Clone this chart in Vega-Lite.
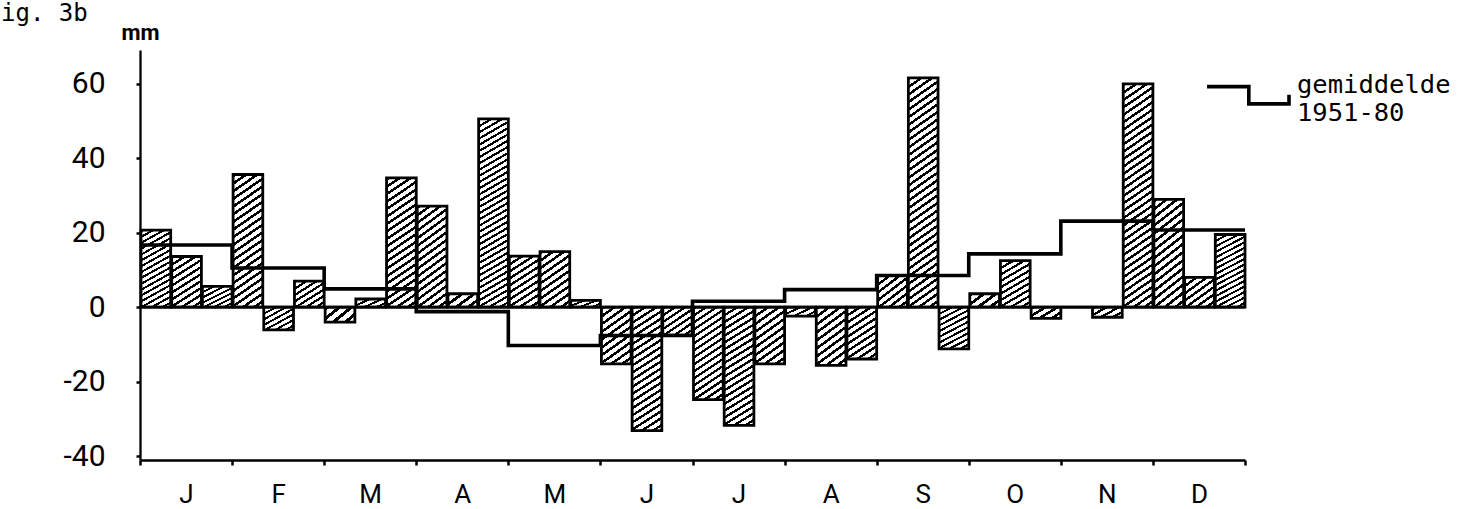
{
  "$schema": "https://vega.github.io/schema/vega-lite/v6.json",
  "autosize": {"type": "none"},
  "width": 1105,
  "height": 410,
  "padding": {"left": 140, "top": 50, "right": 229, "bottom": 49},
  "background": "white",
  "title": {
    "text": "ig. 3b",
    "anchor": "start",
    "frame": "group",
    "font": "DejaVu Sans Mono",
    "fontSize": 24,
    "fontWeight": "normal",
    "color": "black",
    "baseline": "alphabetic",
    "offset": 0,
    "dx": -139,
    "dy": 24
  },
  "config": {
    "view": {"stroke": null},
    "axis": {"domainColor": "black", "domainWidth": 2.3, "tickColor": "black", "labelColor": "black", "grid": false}
  },
  "datasets": {
    "dekaden": [
      {"maand": "jan", "dekade": 1, "waarde": 20.7},
      {"maand": "jan", "dekade": 2, "waarde": 13.6},
      {"maand": "jan", "dekade": 3, "waarde": 5.6},
      {"maand": "feb", "dekade": 4, "waarde": 35.6},
      {"maand": "feb", "dekade": 5, "waarde": -6.1},
      {"maand": "feb", "dekade": 6, "waarde": 7.0},
      {"maand": "mrt", "dekade": 7, "waarde": -4.0},
      {"maand": "mrt", "dekade": 8, "waarde": 2.2},
      {"maand": "mrt", "dekade": 9, "waarde": 34.7},
      {"maand": "apr", "dekade": 10, "waarde": 27.1},
      {"maand": "apr", "dekade": 11, "waarde": 3.6},
      {"maand": "apr", "dekade": 12, "waarde": 50.5},
      {"maand": "mei", "dekade": 13, "waarde": 13.7},
      {"maand": "mei", "dekade": 14, "waarde": 14.9},
      {"maand": "mei", "dekade": 15, "waarde": 1.8},
      {"maand": "jun", "dekade": 16, "waarde": -15.2},
      {"maand": "jun", "dekade": 17, "waarde": -33.1},
      {"maand": "jun", "dekade": 18, "waarde": -7.5},
      {"maand": "jul", "dekade": 19, "waarde": -24.8},
      {"maand": "jul", "dekade": 20, "waarde": -31.7},
      {"maand": "jul", "dekade": 21, "waarde": -15.2},
      {"maand": "aug", "dekade": 22, "waarde": -2.4},
      {"maand": "aug", "dekade": 23, "waarde": -15.6},
      {"maand": "aug", "dekade": 24, "waarde": -13.9},
      {"maand": "sep", "dekade": 25, "waarde": 8.5},
      {"maand": "sep", "dekade": 26, "waarde": 61.5},
      {"maand": "sep", "dekade": 27, "waarde": -11.2},
      {"maand": "okt", "dekade": 28, "waarde": 3.6},
      {"maand": "okt", "dekade": 29, "waarde": 12.5},
      {"maand": "okt", "dekade": 30, "waarde": -3.0},
      {"maand": "nov", "dekade": 31, "waarde": 0},
      {"maand": "nov", "dekade": 32, "waarde": -2.7},
      {"maand": "nov", "dekade": 33, "waarde": 59.9},
      {"maand": "dec", "dekade": 34, "waarde": 28.9},
      {"maand": "dec", "dekade": 35, "waarde": 8.0},
      {"maand": "dec", "dekade": 36, "waarde": 19.5}
    ],
    "gemiddelde": [
      {"maand": "jan", "dekade": 1, "waarde": 16.7},
      {"maand": "feb", "dekade": 4, "waarde": 10.5},
      {"maand": "mrt", "dekade": 7, "waarde": 4.9},
      {"maand": "apr", "dekade": 10, "waarde": -1.2},
      {"maand": "mei", "dekade": 13, "waarde": -10.3},
      {"maand": "jun", "dekade": 16, "waarde": -7.6},
      {"maand": "jul", "dekade": 19, "waarde": 1.6},
      {"maand": "aug", "dekade": 22, "waarde": 4.7},
      {"maand": "sep", "dekade": 25, "waarde": 8.5},
      {"maand": "okt", "dekade": 28, "waarde": 14.3},
      {"maand": "nov", "dekade": 31, "waarde": 23.1},
      {"maand": "dec", "dekade": 34, "waarde": 20.7},
      {"maand": "einde", "dekade": 37, "waarde": 20.7}
    ]
  },
  "layer": [
    {
      "data": {"name": "dekaden"},
      "mark": {"type": "bar", "stroke": "black", "strokeWidth": 2.8, "strokeJoin": "miter"},
      "encoding": {
        "x": {
          "field": "dekade",
          "type": "quantitative",
          "bin": {"step": 1, "extent": [1, 37], "nice": false},
          "scale": {"domain": [1, 37], "nice": false, "zero": false},
          "axis": {
            "title": null,
            "values": [1, 2.5, 4, 5.5, 7, 8.5, 10, 11.5, 13, 14.5, 16, 17.5, 19, 20.5, 22, 23.5, 25, 26.5, 28, 29.5, 31, 32.5, 34, 35.5, 37],
            "labelExpr": "datum.value % 3 == 2.5 ? ['J','F','M','A','M','J','J','A','S','O','N','D'][floor(datum.value / 3)] : ''",
            "tickOpacity": {"condition": {"test": "datum.value % 3 == 1", "value": 1}, "value": 0},
            "tickSize": 5,
            "tickWidth": 2.5,
            "labelPadding": 16,
            "labelFont": "Roboto",
            "labelFontSize": 26,
            "labelAngle": 0,
            "labelOverlap": false,
            "labelFlush": false,
            "labelBound": false
          }
        },
        "y": {
          "field": "waarde",
          "type": "quantitative",
          "scale": {"domain": [-41, 69], "nice": false},
          "axis": {
            "title": "mm",
            "titleAngle": 0,
            "titleAlign": "center",
            "titleBaseline": "alphabetic",
            "titleX": 0,
            "titleY": -11,
            "titleFont": "Roboto",
            "titleFontSize": 22,
            "titleFontWeight": "bold",
            "titleColor": "black",
            "values": [-40, -20, 0, 20, 40, 60],
            "labelExpr": "'' + datum.value",
            "labelFont": "Roboto",
            "labelFontSize": 30,
            "labelPadding": 31,
            "tickSize": 4,
            "tickWidth": 2.5
          }
        },
        "fill": {
          "condition": [
            {"test": "abs(datum.waarde) >= 45", "value": {"gradient": "linear", "x1": 0, "y1": 0, "x2": 0.0987, "y2": 1.082, "stops": [
              {"offset": 0, "color": "#000"}, {"offset": 0.0121, "color": "#000"}, {"offset": 0.0121, "color": "#fff"}, {"offset": 0.0303, "color": "#fff"},
              {"offset": 0.0303, "color": "#000"}, {"offset": 0.0424, "color": "#000"}, {"offset": 0.0424, "color": "#fff"}, {"offset": 0.0606, "color": "#fff"},
              {"offset": 0.0606, "color": "#000"}, {"offset": 0.0727, "color": "#000"}, {"offset": 0.0727, "color": "#fff"}, {"offset": 0.0909, "color": "#fff"},
              {"offset": 0.0909, "color": "#000"}, {"offset": 0.1030, "color": "#000"}, {"offset": 0.1030, "color": "#fff"}, {"offset": 0.1212, "color": "#fff"},
              {"offset": 0.1212, "color": "#000"}, {"offset": 0.1333, "color": "#000"}, {"offset": 0.1333, "color": "#fff"}, {"offset": 0.1515, "color": "#fff"},
              {"offset": 0.1515, "color": "#000"}, {"offset": 0.1636, "color": "#000"}, {"offset": 0.1636, "color": "#fff"}, {"offset": 0.1818, "color": "#fff"},
              {"offset": 0.1818, "color": "#000"}, {"offset": 0.1939, "color": "#000"}, {"offset": 0.1939, "color": "#fff"}, {"offset": 0.2121, "color": "#fff"},
              {"offset": 0.2121, "color": "#000"}, {"offset": 0.2242, "color": "#000"}, {"offset": 0.2242, "color": "#fff"}, {"offset": 0.2424, "color": "#fff"},
              {"offset": 0.2424, "color": "#000"}, {"offset": 0.2545, "color": "#000"}, {"offset": 0.2545, "color": "#fff"}, {"offset": 0.2727, "color": "#fff"},
              {"offset": 0.2727, "color": "#000"}, {"offset": 0.2848, "color": "#000"}, {"offset": 0.2848, "color": "#fff"}, {"offset": 0.3030, "color": "#fff"},
              {"offset": 0.3030, "color": "#000"}, {"offset": 0.3152, "color": "#000"}, {"offset": 0.3152, "color": "#fff"}, {"offset": 0.3333, "color": "#fff"},
              {"offset": 0.3333, "color": "#000"}, {"offset": 0.3455, "color": "#000"}, {"offset": 0.3455, "color": "#fff"}, {"offset": 0.3636, "color": "#fff"},
              {"offset": 0.3636, "color": "#000"}, {"offset": 0.3758, "color": "#000"}, {"offset": 0.3758, "color": "#fff"}, {"offset": 0.3939, "color": "#fff"},
              {"offset": 0.3939, "color": "#000"}, {"offset": 0.4061, "color": "#000"}, {"offset": 0.4061, "color": "#fff"}, {"offset": 0.4242, "color": "#fff"},
              {"offset": 0.4242, "color": "#000"}, {"offset": 0.4364, "color": "#000"}, {"offset": 0.4364, "color": "#fff"}, {"offset": 0.4545, "color": "#fff"},
              {"offset": 0.4545, "color": "#000"}, {"offset": 0.4667, "color": "#000"}, {"offset": 0.4667, "color": "#fff"}, {"offset": 0.4848, "color": "#fff"},
              {"offset": 0.4848, "color": "#000"}, {"offset": 0.4970, "color": "#000"}, {"offset": 0.4970, "color": "#fff"}, {"offset": 0.5152, "color": "#fff"},
              {"offset": 0.5152, "color": "#000"}, {"offset": 0.5273, "color": "#000"}, {"offset": 0.5273, "color": "#fff"}, {"offset": 0.5455, "color": "#fff"},
              {"offset": 0.5455, "color": "#000"}, {"offset": 0.5576, "color": "#000"}, {"offset": 0.5576, "color": "#fff"}, {"offset": 0.5758, "color": "#fff"},
              {"offset": 0.5758, "color": "#000"}, {"offset": 0.5879, "color": "#000"}, {"offset": 0.5879, "color": "#fff"}, {"offset": 0.6061, "color": "#fff"},
              {"offset": 0.6061, "color": "#000"}, {"offset": 0.6182, "color": "#000"}, {"offset": 0.6182, "color": "#fff"}, {"offset": 0.6364, "color": "#fff"},
              {"offset": 0.6364, "color": "#000"}, {"offset": 0.6485, "color": "#000"}, {"offset": 0.6485, "color": "#fff"}, {"offset": 0.6667, "color": "#fff"},
              {"offset": 0.6667, "color": "#000"}, {"offset": 0.6788, "color": "#000"}, {"offset": 0.6788, "color": "#fff"}, {"offset": 0.6970, "color": "#fff"},
              {"offset": 0.6970, "color": "#000"}, {"offset": 0.7091, "color": "#000"}, {"offset": 0.7091, "color": "#fff"}, {"offset": 0.7273, "color": "#fff"},
              {"offset": 0.7273, "color": "#000"}, {"offset": 0.7394, "color": "#000"}, {"offset": 0.7394, "color": "#fff"}, {"offset": 0.7576, "color": "#fff"},
              {"offset": 0.7576, "color": "#000"}, {"offset": 0.7697, "color": "#000"}, {"offset": 0.7697, "color": "#fff"}, {"offset": 0.7879, "color": "#fff"},
              {"offset": 0.7879, "color": "#000"}, {"offset": 0.8000, "color": "#000"}, {"offset": 0.8000, "color": "#fff"}, {"offset": 0.8182, "color": "#fff"},
              {"offset": 0.8182, "color": "#000"}, {"offset": 0.8303, "color": "#000"}, {"offset": 0.8303, "color": "#fff"}, {"offset": 0.8485, "color": "#fff"},
              {"offset": 0.8485, "color": "#000"}, {"offset": 0.8606, "color": "#000"}, {"offset": 0.8606, "color": "#fff"}, {"offset": 0.8788, "color": "#fff"},
              {"offset": 0.8788, "color": "#000"}, {"offset": 0.8909, "color": "#000"}, {"offset": 0.8909, "color": "#fff"}, {"offset": 0.9091, "color": "#fff"},
              {"offset": 0.9091, "color": "#000"}, {"offset": 0.9212, "color": "#000"}, {"offset": 0.9212, "color": "#fff"}, {"offset": 0.9394, "color": "#fff"},
              {"offset": 0.9394, "color": "#000"}, {"offset": 0.9515, "color": "#000"}, {"offset": 0.9515, "color": "#fff"}, {"offset": 0.9697, "color": "#fff"},
              {"offset": 0.9697, "color": "#000"}, {"offset": 0.9818, "color": "#000"}, {"offset": 0.9818, "color": "#fff"}, {"offset": 1, "color": "#fff"}
            ]}},
            {"test": "abs(datum.waarde) >= 31", "value": {"gradient": "linear", "x1": 0, "y1": 0, "x2": 0.174, "y2": 1.128, "stops": [
              {"offset": 0, "color": "#000"}, {"offset": 0.02, "color": "#000"}, {"offset": 0.02, "color": "#fff"}, {"offset": 0.05, "color": "#fff"},
              {"offset": 0.05, "color": "#000"}, {"offset": 0.07, "color": "#000"}, {"offset": 0.07, "color": "#fff"}, {"offset": 0.1, "color": "#fff"},
              {"offset": 0.1, "color": "#000"}, {"offset": 0.12, "color": "#000"}, {"offset": 0.12, "color": "#fff"}, {"offset": 0.15, "color": "#fff"},
              {"offset": 0.15, "color": "#000"}, {"offset": 0.17, "color": "#000"}, {"offset": 0.17, "color": "#fff"}, {"offset": 0.2, "color": "#fff"},
              {"offset": 0.2, "color": "#000"}, {"offset": 0.22, "color": "#000"}, {"offset": 0.22, "color": "#fff"}, {"offset": 0.25, "color": "#fff"},
              {"offset": 0.25, "color": "#000"}, {"offset": 0.27, "color": "#000"}, {"offset": 0.27, "color": "#fff"}, {"offset": 0.3, "color": "#fff"},
              {"offset": 0.3, "color": "#000"}, {"offset": 0.32, "color": "#000"}, {"offset": 0.32, "color": "#fff"}, {"offset": 0.35, "color": "#fff"},
              {"offset": 0.35, "color": "#000"}, {"offset": 0.37, "color": "#000"}, {"offset": 0.37, "color": "#fff"}, {"offset": 0.4, "color": "#fff"},
              {"offset": 0.4, "color": "#000"}, {"offset": 0.42, "color": "#000"}, {"offset": 0.42, "color": "#fff"}, {"offset": 0.45, "color": "#fff"},
              {"offset": 0.45, "color": "#000"}, {"offset": 0.47, "color": "#000"}, {"offset": 0.47, "color": "#fff"}, {"offset": 0.5, "color": "#fff"},
              {"offset": 0.5, "color": "#000"}, {"offset": 0.52, "color": "#000"}, {"offset": 0.52, "color": "#fff"}, {"offset": 0.55, "color": "#fff"},
              {"offset": 0.55, "color": "#000"}, {"offset": 0.57, "color": "#000"}, {"offset": 0.57, "color": "#fff"}, {"offset": 0.6, "color": "#fff"},
              {"offset": 0.6, "color": "#000"}, {"offset": 0.62, "color": "#000"}, {"offset": 0.62, "color": "#fff"}, {"offset": 0.65, "color": "#fff"},
              {"offset": 0.65, "color": "#000"}, {"offset": 0.67, "color": "#000"}, {"offset": 0.67, "color": "#fff"}, {"offset": 0.7, "color": "#fff"},
              {"offset": 0.7, "color": "#000"}, {"offset": 0.72, "color": "#000"}, {"offset": 0.72, "color": "#fff"}, {"offset": 0.75, "color": "#fff"},
              {"offset": 0.75, "color": "#000"}, {"offset": 0.77, "color": "#000"}, {"offset": 0.77, "color": "#fff"}, {"offset": 0.8, "color": "#fff"},
              {"offset": 0.8, "color": "#000"}, {"offset": 0.82, "color": "#000"}, {"offset": 0.82, "color": "#fff"}, {"offset": 0.85, "color": "#fff"},
              {"offset": 0.85, "color": "#000"}, {"offset": 0.87, "color": "#000"}, {"offset": 0.87, "color": "#fff"}, {"offset": 0.9, "color": "#fff"},
              {"offset": 0.9, "color": "#000"}, {"offset": 0.92, "color": "#000"}, {"offset": 0.92, "color": "#fff"}, {"offset": 0.95, "color": "#fff"},
              {"offset": 0.95, "color": "#000"}, {"offset": 0.97, "color": "#000"}, {"offset": 0.97, "color": "#fff"}, {"offset": 1, "color": "#fff"}
            ]}},
            {"test": "abs(datum.waarde) >= 17.5", "value": {"gradient": "linear", "x1": 0, "y1": 0, "x2": 0.249, "y2": 1.161, "stops": [
              {"offset": 0, "color": "#000"}, {"offset": 0.025, "color": "#000"}, {"offset": 0.025, "color": "#fff"}, {"offset": 0.0625, "color": "#fff"},
              {"offset": 0.0625, "color": "#000"}, {"offset": 0.0875, "color": "#000"}, {"offset": 0.0875, "color": "#fff"}, {"offset": 0.125, "color": "#fff"},
              {"offset": 0.125, "color": "#000"}, {"offset": 0.15, "color": "#000"}, {"offset": 0.15, "color": "#fff"}, {"offset": 0.1875, "color": "#fff"},
              {"offset": 0.1875, "color": "#000"}, {"offset": 0.2125, "color": "#000"}, {"offset": 0.2125, "color": "#fff"}, {"offset": 0.25, "color": "#fff"},
              {"offset": 0.25, "color": "#000"}, {"offset": 0.275, "color": "#000"}, {"offset": 0.275, "color": "#fff"}, {"offset": 0.3125, "color": "#fff"},
              {"offset": 0.3125, "color": "#000"}, {"offset": 0.3375, "color": "#000"}, {"offset": 0.3375, "color": "#fff"}, {"offset": 0.375, "color": "#fff"},
              {"offset": 0.375, "color": "#000"}, {"offset": 0.4, "color": "#000"}, {"offset": 0.4, "color": "#fff"}, {"offset": 0.4375, "color": "#fff"},
              {"offset": 0.4375, "color": "#000"}, {"offset": 0.4625, "color": "#000"}, {"offset": 0.4625, "color": "#fff"}, {"offset": 0.5, "color": "#fff"},
              {"offset": 0.5, "color": "#000"}, {"offset": 0.525, "color": "#000"}, {"offset": 0.525, "color": "#fff"}, {"offset": 0.5625, "color": "#fff"},
              {"offset": 0.5625, "color": "#000"}, {"offset": 0.5875, "color": "#000"}, {"offset": 0.5875, "color": "#fff"}, {"offset": 0.625, "color": "#fff"},
              {"offset": 0.625, "color": "#000"}, {"offset": 0.65, "color": "#000"}, {"offset": 0.65, "color": "#fff"}, {"offset": 0.6875, "color": "#fff"},
              {"offset": 0.6875, "color": "#000"}, {"offset": 0.7125, "color": "#000"}, {"offset": 0.7125, "color": "#fff"}, {"offset": 0.75, "color": "#fff"},
              {"offset": 0.75, "color": "#000"}, {"offset": 0.775, "color": "#000"}, {"offset": 0.775, "color": "#fff"}, {"offset": 0.8125, "color": "#fff"},
              {"offset": 0.8125, "color": "#000"}, {"offset": 0.8375, "color": "#000"}, {"offset": 0.8375, "color": "#fff"}, {"offset": 0.875, "color": "#fff"},
              {"offset": 0.875, "color": "#000"}, {"offset": 0.9, "color": "#000"}, {"offset": 0.9, "color": "#fff"}, {"offset": 0.9375, "color": "#fff"},
              {"offset": 0.9375, "color": "#000"}, {"offset": 0.9625, "color": "#000"}, {"offset": 0.9625, "color": "#fff"}, {"offset": 1, "color": "#fff"}
            ]}},
            {"test": "abs(datum.waarde) >= 10", "value": {"gradient": "linear", "x1": 0, "y1": 0, "x2": 0.448, "y2": 1.205, "stops": [
              {"offset": 0, "color": "#000"}, {"offset": 0.04, "color": "#000"}, {"offset": 0.04, "color": "#fff"}, {"offset": 0.1, "color": "#fff"},
              {"offset": 0.1, "color": "#000"}, {"offset": 0.14, "color": "#000"}, {"offset": 0.14, "color": "#fff"}, {"offset": 0.2, "color": "#fff"},
              {"offset": 0.2, "color": "#000"}, {"offset": 0.24, "color": "#000"}, {"offset": 0.24, "color": "#fff"}, {"offset": 0.3, "color": "#fff"},
              {"offset": 0.3, "color": "#000"}, {"offset": 0.34, "color": "#000"}, {"offset": 0.34, "color": "#fff"}, {"offset": 0.4, "color": "#fff"},
              {"offset": 0.4, "color": "#000"}, {"offset": 0.44, "color": "#000"}, {"offset": 0.44, "color": "#fff"}, {"offset": 0.5, "color": "#fff"},
              {"offset": 0.5, "color": "#000"}, {"offset": 0.54, "color": "#000"}, {"offset": 0.54, "color": "#fff"}, {"offset": 0.6, "color": "#fff"},
              {"offset": 0.6, "color": "#000"}, {"offset": 0.64, "color": "#000"}, {"offset": 0.64, "color": "#fff"}, {"offset": 0.7, "color": "#fff"},
              {"offset": 0.7, "color": "#000"}, {"offset": 0.74, "color": "#000"}, {"offset": 0.74, "color": "#fff"}, {"offset": 0.8, "color": "#fff"},
              {"offset": 0.8, "color": "#000"}, {"offset": 0.84, "color": "#000"}, {"offset": 0.84, "color": "#fff"}, {"offset": 0.9, "color": "#fff"},
              {"offset": 0.9, "color": "#000"}, {"offset": 0.94, "color": "#000"}, {"offset": 0.94, "color": "#fff"}, {"offset": 1, "color": "#fff"}
            ]}},
            {"test": "abs(datum.waarde) >= 5", "value": {"gradient": "linear", "x1": 0, "y1": 0, "x2": 0.812, "y2": 1.135, "stops": [
              {"offset": 0, "color": "#000"}, {"offset": 0.0571, "color": "#000"}, {"offset": 0.0571, "color": "#fff"}, {"offset": 0.1429, "color": "#fff"},
              {"offset": 0.1429, "color": "#000"}, {"offset": 0.2, "color": "#000"}, {"offset": 0.2, "color": "#fff"}, {"offset": 0.2857, "color": "#fff"},
              {"offset": 0.2857, "color": "#000"}, {"offset": 0.3429, "color": "#000"}, {"offset": 0.3429, "color": "#fff"}, {"offset": 0.4286, "color": "#fff"},
              {"offset": 0.4286, "color": "#000"}, {"offset": 0.4857, "color": "#000"}, {"offset": 0.4857, "color": "#fff"}, {"offset": 0.5714, "color": "#fff"},
              {"offset": 0.5714, "color": "#000"}, {"offset": 0.6286, "color": "#000"}, {"offset": 0.6286, "color": "#fff"}, {"offset": 0.7143, "color": "#fff"},
              {"offset": 0.7143, "color": "#000"}, {"offset": 0.7714, "color": "#000"}, {"offset": 0.7714, "color": "#fff"}, {"offset": 0.8571, "color": "#fff"},
              {"offset": 0.8571, "color": "#000"}, {"offset": 0.9143, "color": "#000"}, {"offset": 0.9143, "color": "#fff"}, {"offset": 1, "color": "#fff"}
            ]}}
          ],
          "value": {"gradient": "linear", "x1": 0, "y1": 0, "x2": 1.17, "y2": 0.726, "stops": [
            {"offset": 0, "color": "#000"}, {"offset": 0.1, "color": "#000"}, {"offset": 0.1, "color": "#fff"}, {"offset": 0.25, "color": "#fff"},
            {"offset": 0.25, "color": "#000"}, {"offset": 0.35, "color": "#000"}, {"offset": 0.35, "color": "#fff"}, {"offset": 0.5, "color": "#fff"},
            {"offset": 0.5, "color": "#000"}, {"offset": 0.6, "color": "#000"}, {"offset": 0.6, "color": "#fff"}, {"offset": 0.75, "color": "#fff"},
            {"offset": 0.75, "color": "#000"}, {"offset": 0.85, "color": "#000"}, {"offset": 0.85, "color": "#fff"}, {"offset": 1, "color": "#fff"}
          ]}
        }
      }
    },
    {
      "data": {"values": [{"nullijn": 0}]},
      "mark": {"type": "rule", "stroke": "black", "strokeWidth": 2.8},
      "encoding": {"y": {"field": "nullijn", "type": "quantitative"}}
    },
    {
      "data": {"name": "gemiddelde"},
      "mark": {"type": "line", "interpolate": "step-after", "strokeWidth": 3.6, "strokeJoin": "miter", "strokeCap": "butt"},
      "encoding": {
        "x": {"field": "dekade", "type": "quantitative"},
        "y": {"field": "waarde", "type": "quantitative"},
        "stroke": {
          "datum": "gemiddelde 1951-80",
          "type": "nominal",
          "scale": {"range": ["black"]},
          "legend": {
            "orient": "none",
            "legendX": 1065,
            "legendY": -8,
            "padding": 0,
            "title": null,
            "symbolType": "M-1,0.04H0.02V0.46H1V0.24",
            "symbolSize": 6724,
            "symbolStrokeWidth": 3.6,
            "symbolStrokeColor": "black",
            "symbolFillColor": "transparent",
            "labelExpr": "['gemiddelde', '1951-80']",
            "labelFont": "DejaVu Sans Mono",
            "labelFontSize": 25.5,
            "labelColor": "black",
            "labelOffset": 6,
            "labelLimit": 400
          }
        }
      }
    }
  ]
}
